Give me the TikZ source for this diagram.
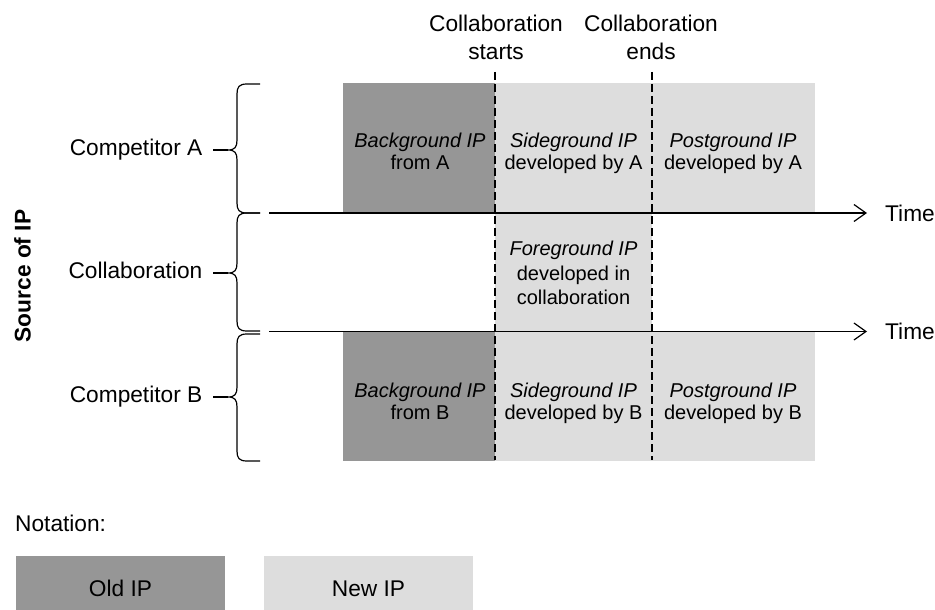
\documentclass[tikz,border=0pt]{standalone}
\usepackage{fontspec}
\setmainfont{Liberation Sans}
\usetikzlibrary{arrows.meta}
\definecolor{oldip}{RGB}{150,150,150}
\definecolor{newip}{RGB}{221,221,221}
\begin{document}
\begin{tikzpicture}[x=1pt,y=-1pt,
  lbl/.style={font=\fontsize{22.7}{28}\selectfont, inner sep=0pt, align=center},
  boxtxt/.style={font=\fontsize{20}{22.5}\selectfont, inner sep=0pt, align=center, anchor=north},
  cell/.style={draw=none, inner sep=0pt, outer sep=0pt},
  oldcell/.style={cell, fill=oldip},
  newcell/.style={cell, fill=newip},
  axisline/.style={line width=1.2pt, -{Straight Barb[length=12pt,width=17pt,line width=1.2pt]}},
  bracepath/.style={line width=1.2pt},
  divider/.style={line width=1.2pt, dash pattern=on 8pt off 4pt},
  conn/.style={line width=1.2pt},
]
\useasboundingbox (0,0) rectangle (935,610);

% ---- cells ----
\node[oldcell, minimum width=152pt, minimum height=130pt] (bgA) at (419,148) {};
\node[newcell, minimum width=157pt, minimum height=130pt] (sgA) at (573.5,148) {};
\node[newcell, minimum width=163pt, minimum height=130pt] (pgA) at (733.5,148) {};
\node[newcell, minimum width=157pt, minimum height=119pt] (fg) at (573.5,272.5) {};
\node[oldcell, minimum width=152pt, minimum height=129pt] (bgB) at (419,396.5) {};
\node[newcell, minimum width=157pt, minimum height=129pt] (sgB) at (573.5,396.5) {};
\node[newcell, minimum width=163pt, minimum height=129pt] (pgB) at (733.5,396.5) {};

% ---- cell texts ----
\node[boxtxt] (tbgA) at (420,132.7) {\textit{Background IP}\\from A};
\node[boxtxt] (tsgA) at (573.5,132.7) {\textit{Sideground IP}\\developed by A};
\node[boxtxt] (tpgA) at (733,132.7) {\textit{Postground IP}\\developed by A};
\node[boxtxt, font=\fontsize{20}{24.5}\selectfont] (tfg) at (573.5,241) {\textit{Foreground IP}\\developed in\\collaboration};
\node[boxtxt] (tbgB) at (420,382.7) {\textit{Background IP}\\from B};
\node[boxtxt] (tsgB) at (573.5,382.7) {\textit{Sideground IP}\\developed by B};
\node[boxtxt] (tpgB) at (733,382.7) {\textit{Postground IP}\\developed by B};

% ---- dashed dividers ----
\coordinate (d1t) at (495,72);
\coordinate (d1b) at (495,460);
\coordinate (d2t) at (652,72);
\coordinate (d2b) at (652,460);
\draw[divider] (d1t) -- (d1b);
\draw[divider] (d2t) -- (d2b);

% ---- top labels ----
\node[lbl] (cstart) at (496,37.5) {Collaboration\\starts};
\node[lbl] (cend) at (651,37.5) {Collaboration\\ends};

% ---- time axes ----
\coordinate (ax1s) at (269,213);
\coordinate (ax1e) at (867,213);
\coordinate (ax2s) at (269,331.5);
\coordinate (ax2e) at (867,331.5);
\draw[axisline] (ax1s) -- (ax1e);
\draw[axisline] (ax2s) -- (ax2e);
\node[lbl, anchor=base west] (time1) at (885,221) {Time};
\node[lbl, anchor=base west] (time2) at (885,339.5) {Time};

% ---- braces ----
\coordinate (tipA) at (228,150);
\coordinate (tipC) at (228,273);
\coordinate (tipB) at (228,397);
\draw[bracepath] (260,84) -- (247,84) .. controls (239,84) and (237,87) .. (237,94)
  -- (237,140) .. controls (237,147) and (235,150) .. (tipA)
  .. controls (235,150) and (237,153) .. (237,160)
  -- (237,203) .. controls (237,210) and (239,213) .. (247,213) -- (260,213);
\draw[bracepath] (260,213) -- (247,213) .. controls (239,213) and (237,216) .. (237,223)
  -- (237,263) .. controls (237,270) and (235,273) .. (tipC)
  .. controls (235,273) and (237,276) .. (237,283)
  -- (237,321) .. controls (237,328) and (239,331) .. (247,331) -- (260,331);
\draw[bracepath] (260,334) -- (247,334) .. controls (239,334) and (237,337) .. (237,344)
  -- (237,387) .. controls (237,394) and (235,397) .. (tipB)
  .. controls (235,397) and (237,400) .. (237,407)
  -- (237,451) .. controls (237,458) and (239,461) .. (247,461) -- (260,461);

% ---- row labels ----
\node[lbl, anchor=base east] (compA) at (202.5,155) {Competitor A};
\node[lbl, anchor=base east] (collab) at (202.5,278) {Collaboration};
\node[lbl, anchor=base east] (compB) at (202.5,402) {Competitor B};
\coordinate (lA) at (213,150);
\coordinate (lC) at (213,273);
\coordinate (lB) at (213,397);
\draw[conn] (lA) -- (tipA);
\draw[conn] (lC) -- (tipC);
\draw[conn] (lB) -- (tipB);

\node[lbl, font=\fontsize{22.7}{27}\selectfont\bfseries, rotate=90] (source) at (22.5,276) {Source of IP};

% ---- notation ----
\node[lbl, anchor=base west] (notation) at (15,531) {Notation:};
\node[oldcell, minimum width=209pt, minimum height=54pt] (oldbox) at (120.5,583) {};
\node[newcell, minimum width=209pt, minimum height=54pt] (newbox) at (368.5,583) {};
\node[lbl, anchor=base] (oldtxt) at (120.5,596.5) {Old IP};
\node[lbl, anchor=base] (newtxt) at (368.5,596.5) {New IP};
\end{tikzpicture}
\end{document}
